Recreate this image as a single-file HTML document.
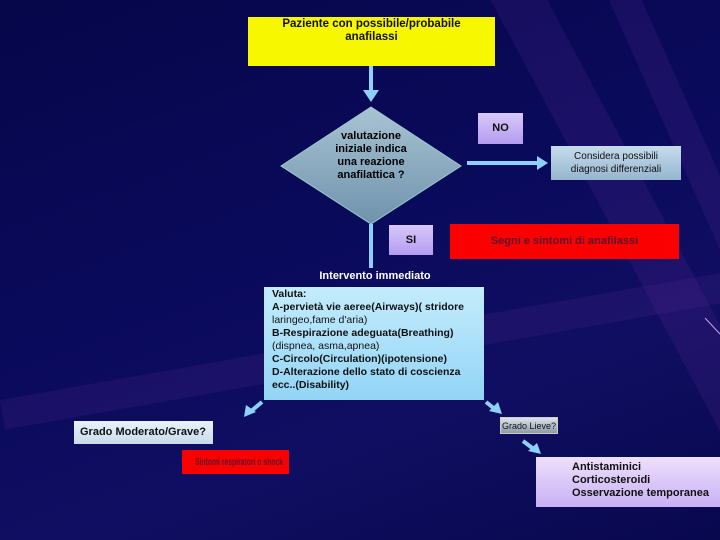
<!DOCTYPE html>
<html><head><meta charset="utf-8"><style>
html,body{margin:0;width:720px;height:540px;overflow:hidden;font-family:"Liberation Sans",sans-serif;}
.bg{position:absolute;left:0;top:0;width:720px;height:540px;background:linear-gradient(160deg,#06064a 0%,#0a0a5c 45%,#100e62 70%,#08084e 100%);overflow:hidden}
.s{position:absolute;background:rgba(110,50,160,.16);transform-origin:0 0}
.b{position:absolute;box-sizing:border-box;font-weight:bold;color:#111;font-size:11px;line-height:13px;white-space:nowrap;overflow:hidden}
</style></head><body>
<div class="bg">
<div class="s" style="left:480px;top:-20px;width:50px;height:700px;transform:rotate(-28deg)"></div>
<div class="s" style="left:600px;top:-20px;width:30px;height:700px;transform:rotate(-24deg)"></div>
<div class="s" style="left:0;top:400px;width:800px;height:30px;transform:rotate(-10deg);background:rgba(110,50,160,.14)"></div>
</div>
<svg width="720" height="540" style="position:absolute;left:0;top:0">
<defs><linearGradient id="dg" x1="0" y1="0" x2="0" y2="1"><stop offset="0" stop-color="#a9c3d3"/><stop offset="1" stop-color="#6f93ad"/></linearGradient></defs>
<g stroke="#8fd0f5" stroke-width="4" fill="none">
<line x1="371" y1="66" x2="371" y2="96"/>
<line x1="371" y1="224" x2="371" y2="268"/>
<line x1="467" y1="163" x2="540" y2="163"/>
<line x1="262" y1="402" x2="250" y2="412"/>
<line x1="486" y1="402" x2="496" y2="410"/>
<line x1="523" y1="441" x2="535" y2="450"/>
</g>
<g fill="#8fd0f5">
<polygon points="363,90 379,90 371,102"/>
<polygon points="537,156 548,163 537,170"/>
<polygon points="244,417 246,405 256,412"/>
<polygon points="502,414 489,411 498,402"/>
<polygon points="541,454 528,451 537,443"/>
</g>
<polygon points="371,107 461,166 371,224 281,166" fill="url(#dg)" stroke="#9cc" stroke-width="1"/>
<line x1="705" y1="318" x2="720" y2="334" stroke="#c8a0e0" stroke-width="1"/>
<text x="371" y="139" font-size="11" font-weight="bold" text-anchor="middle" font-family="Liberation Sans">valutazione</text>
<text x="371" y="152" font-size="11" font-weight="bold" text-anchor="middle" font-family="Liberation Sans">iniziale indica</text>
<text x="371" y="165" font-size="11" font-weight="bold" text-anchor="middle" font-family="Liberation Sans">una reazione</text>
<text x="371" y="178" font-size="11" font-weight="bold" text-anchor="middle" font-family="Liberation Sans">anafilattica ?</text>
</svg>
<div class="b" style="left:248px;top:17px;width:247px;height:49px;background:#f7f700;text-align:center;padding-top:1px;font-size:11.5px">Paziente con possibile/probabile<br>anafilassi</div>
<div class="b" style="left:478px;top:113px;width:45px;height:31px;background:linear-gradient(#d8c8fa,#b49cf0);text-align:center;padding-top:9px">NO</div>
<div class="b" style="left:551px;top:146px;width:130px;height:34px;background:linear-gradient(#c6dcec,#95b6cf);text-align:center;padding-top:4px;font-weight:normal;font-size:10px">Considera possibili<br>diagnosi differenziali</div>
<div class="b" style="left:389px;top:225px;width:44px;height:30px;background:linear-gradient(#d8c8fa,#b49cf0);text-align:center;padding-top:9px">SI</div>
<div class="b" style="left:450px;top:224px;width:229px;height:35px;background:#fa0000;color:#601030;text-align:center;padding-top:11px">Segni e sintomi di anafilassi</div>
<div class="b" style="left:300px;top:270px;width:150px;text-align:center;color:#fff">Intervento immediato</div>
<div class="b" style="left:264px;top:287px;width:220px;height:113px;background:linear-gradient(#c4ecfc,#92d4f6);padding:1px 0 0 8px;font-size:10.5px">Valuta:<br>A-pervietà vie aeree(Airways)( stridore<br><span style="font-weight:normal">laringeo,fame d'aria)</span><br>B-Respirazione adeguata(Breathing)<br><span style="font-weight:normal">(dispnea, asma,apnea)</span><br>C-Circolo(Circulation)(ipotensione)<br>D-Alterazione dello stato di coscienza<br>ecc..(Disability)</div>
<div class="b" style="left:74px;top:421px;width:139px;height:23px;background:linear-gradient(#e8f2fa,#c8dcec);padding:5px 0 0 6px">Grado Moderato/Grave?</div>
<div class="b" style="left:182px;top:450px;width:107px;height:24px;background:#fa0000;color:#601030;padding-top:6px;font-size:10px"><span style="display:inline-block;transform:scaleX(0.68);transform-origin:0 0;margin-left:13px">Sintomi respiratori o shock</span></div>
<div class="b" style="left:500px;top:417px;width:58px;height:17px;background:linear-gradient(#dde3ea,#8e9aa8);border:1px solid #ccc;text-align:center;font-weight:normal;font-size:9px;padding-top:2px">Grado Lieve?</div>
<div class="b" style="left:536px;top:457px;width:184px;height:50px;background:linear-gradient(#eee0fc,#c8b0f4);padding:4px 0 0 36px">Antistaminici<br>Corticosteroidi<br>Osservazione temporanea</div>
</body></html>
